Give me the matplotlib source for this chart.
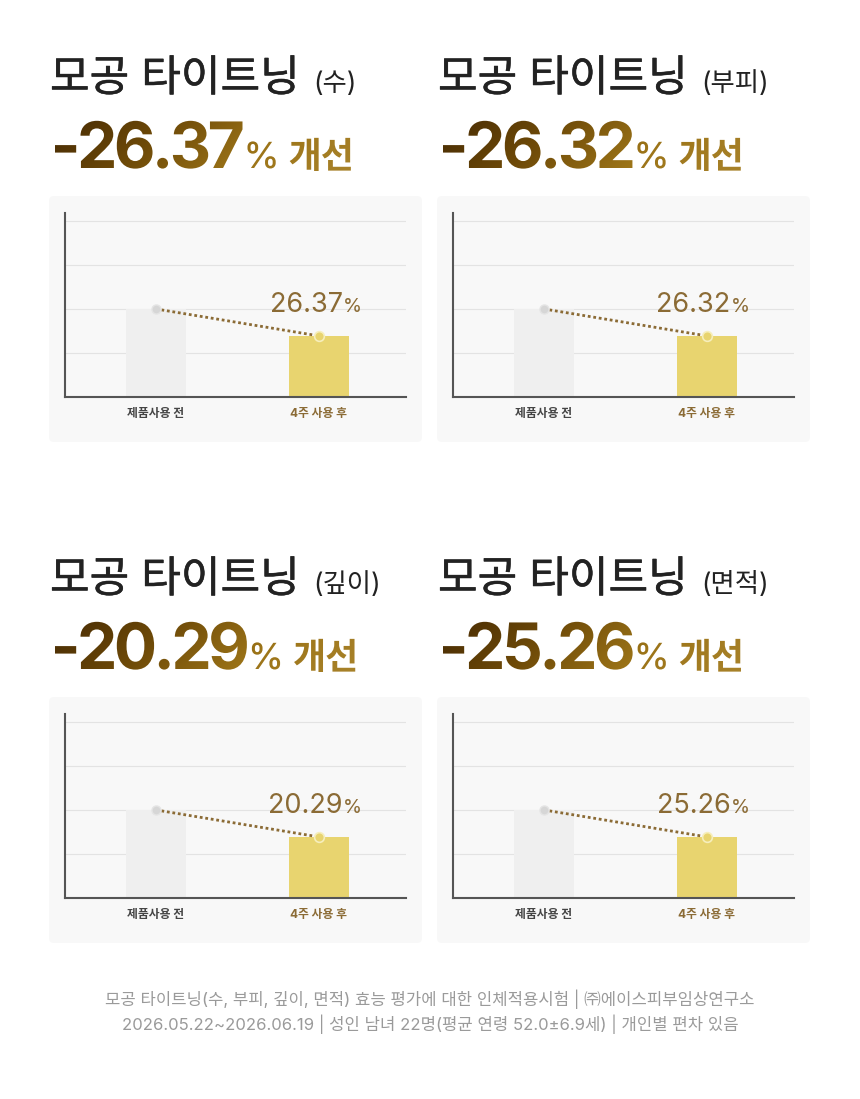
import numpy as np
import matplotlib
matplotlib.use("Agg")
import matplotlib.pyplot as plt
import matplotlib.patheffects as pe
from matplotlib.textpath import TextPath, text_to_path
from matplotlib.patches import PathPatch, FancyBboxPatch
from matplotlib.path import Path
from matplotlib.font_manager import FontProperties
from matplotlib.colors import LinearSegmentedColormap
from matplotlib.transforms import Affine2D

plt.rcParams['font.family'] = ['Inter', 'Noto Sans CJK KR', 'DejaVu Sans']

W, H = 860, 1099

# ---- data -------------------------------------------------------------
title_main = "모공 타이트닝"
title_sub = ["(수)", "(부피)", "(깊이)", "(면적)"]
improve = ["26.37", "26.32", "20.29", "25.26"]
categories = ["제품사용 전", "4주 사용 후"]
before_vals = [100, 100, 100, 100]
after_vals = [69.4, 69.4, 69.4, 69.4]
footer = ["모공 타이트닝(수, 부피, 깊이, 면적) 효능 평가에 대한 인체적용시험 | ㈜에이스피부임상연구소",
          "2026.05.22~2026.06.19 | 성인 남녀 22명(평균 연령 52.0±6.9세) | 개인별 편차 있음"]

# panel offsets (px, from top-left panel)
offsets = [(0, 0), (388, 0), (0, 501), (388, 501)]

GOLD_TXT = "#8b6b35"
BAR_BEFORE = "#efefef"
BAR_AFTER = "#e8d46f"
grad_cmap = LinearSegmentedColormap.from_list("gold", ["#472b04", "#6e4a08", "#9c7418", "#a8822a"])

fig = plt.figure(figsize=(W / 100, H / 100), dpi=100)
canvas = fig.add_axes([0, 0, 1, 1])
canvas.set_xlim(0, W); canvas.set_ylim(0, H); canvas.axis("off")


def Y(top):
    return H - top


def tracked_path(s, size, fp, track):
    """Text path built glyph by glyph, with extra spacing `track` (px) between glyphs."""
    fp = fp.copy(); fp.set_size(size)
    paths, cx = [], 0.0
    for ch in s:
        tp = TextPath((cx, 0), ch, size=size, prop=fp)
        paths.append(tp)
        w, _, _ = text_to_path.get_text_width_height_descent(ch, fp, ismath=False)
        cx += w + track
    return Path.make_compound_path(*paths)


def grad_text(x0, base, parts):
    """parts: (string, size_px, FontProperties, tracking_px, gap_px). One path, gradient fill."""
    paths = []
    cx = x0
    for s, size, fp, track, gap in parts:
        tp = tracked_path(s, size, fp, track)
        e = tp.get_extents()
        tp = tp.transformed(Affine2D().translate(cx - e.x0, Y(base)))
        paths.append(tp)
        cx = tp.get_extents().x1 + gap
    path = Path.make_compound_path(*paths)
    patch = PathPatch(path, fc="none", ec="none")
    canvas.add_patch(patch)
    e = path.get_extents()
    gx, gy = np.meshgrid(np.linspace(0, 1, 200), np.linspace(0, 1, 60))
    g = 0.85 * gx + 0.15 * (1 - gy)
    im = canvas.imshow(g, extent=[e.x0, e.x1, e.y0, e.y1], cmap=grad_cmap, origin="lower",
                       aspect="auto", zorder=3, vmin=0, vmax=1)
    im.set_clip_path(patch)


fp_num = FontProperties(family="Inter", weight="bold")
fp_pct = FontProperties(family="Inter", weight="medium")
fp_kr = FontProperties(family="Noto Sans CJK KR", weight="bold")
thick = [pe.withStroke(linewidth=0.4, foreground="#222222")]

for i, (ox, oy) in enumerate(offsets):
    # background card
    canvas.add_patch(FancyBboxPatch((49 + ox, Y(442 + oy)), 373, 246,
                                    boxstyle="round,pad=0,rounding_size=5",
                                    fc="#f8f8f8", ec="none", zorder=0))
    # titles
    canvas.text(50 + ox, Y(91 + oy), title_main, fontsize=31, color="#222222",
                va="baseline", ha="left", path_effects=thick)
    canvas.text(313 + ox, Y(91 + oy), title_sub[i], fontsize=19, color="#222222",
                va="baseline", ha="left")
    # big number with gradient
    grad_text(55 + ox, 168 + oy, [("-" + improve[i], 64, fp_num, -3.5, 5),
                                  ("%", 36, fp_pct, 0, 14),
                                  ("개선", 36, fp_kr, -1, 0)])

    # bar chart
    left, right, top, bottom = 65 + ox, 406 + ox, 213 + oy, 397 + oy
    ax = fig.add_axes([left / W, (H - bottom) / H, (right - left) / W, (bottom - top) / H])
    ax.patch.set_alpha(0)
    x = np.arange(len(categories))
    vals = [before_vals[i], after_vals[i]]
    ax.bar(x, vals, width=0.37, color=[BAR_BEFORE, BAR_AFTER], zorder=2)
    ax.plot(x, vals, ls=(0, (1, 1)), color=GOLD_TXT, lw=2, zorder=3)
    ax.plot(x[0], vals[0], "o", ms=6.5, color="#d6d6d6", mec="#e4e4e4", mew=1, zorder=4)
    ax.plot(x[1], vals[1], "o", ms=7, color=BAR_AFTER, mec="#f6eebc", mew=1.2, zorder=4)
    ax.set_xlim(-0.558, 1.534)
    ax.set_ylim(0, 209)
    ax.set_yticks([50, 100, 150, 200])
    ax.yaxis.grid(True, color="#e3e3e3", lw=0.8, zorder=0)
    ax.tick_params(axis="y", length=0, labelleft=False)
    ax.set_xticks(x)
    ax.set_xticklabels(categories, fontsize=8.5, fontweight="bold")
    ax.get_xticklabels()[0].set_color("#444444")
    ax.get_xticklabels()[1].set_color(GOLD_TXT)
    ax.tick_params(axis="x", length=0, pad=8)
    for s in ["top", "right"]:
        ax.spines[s].set_visible(False)
    for s in ["left", "bottom"]:
        ax.spines[s].set_color("#555555")
        ax.spines[s].set_linewidth(1.5)
    ax.annotate(improve[i], xy=(x[1], 97), xytext=(17, 0), textcoords="offset points",
                ha="right", va="baseline", fontsize=19.5, color=GOLD_TXT)
    ax.annotate("%", xy=(x[1], 97), xytext=(17.5, 0), textcoords="offset points",
                ha="left", va="baseline", fontsize=14, color=GOLD_TXT)

# footer
canvas.text(430, Y(1005), footer[0], fontsize=12, color="#9a9a9a", ha="center", va="baseline")
canvas.text(430, Y(1030), footer[1], fontsize=12, color="#9a9a9a", ha="center", va="baseline")

fig.savefig("out.png", dpi=100)
